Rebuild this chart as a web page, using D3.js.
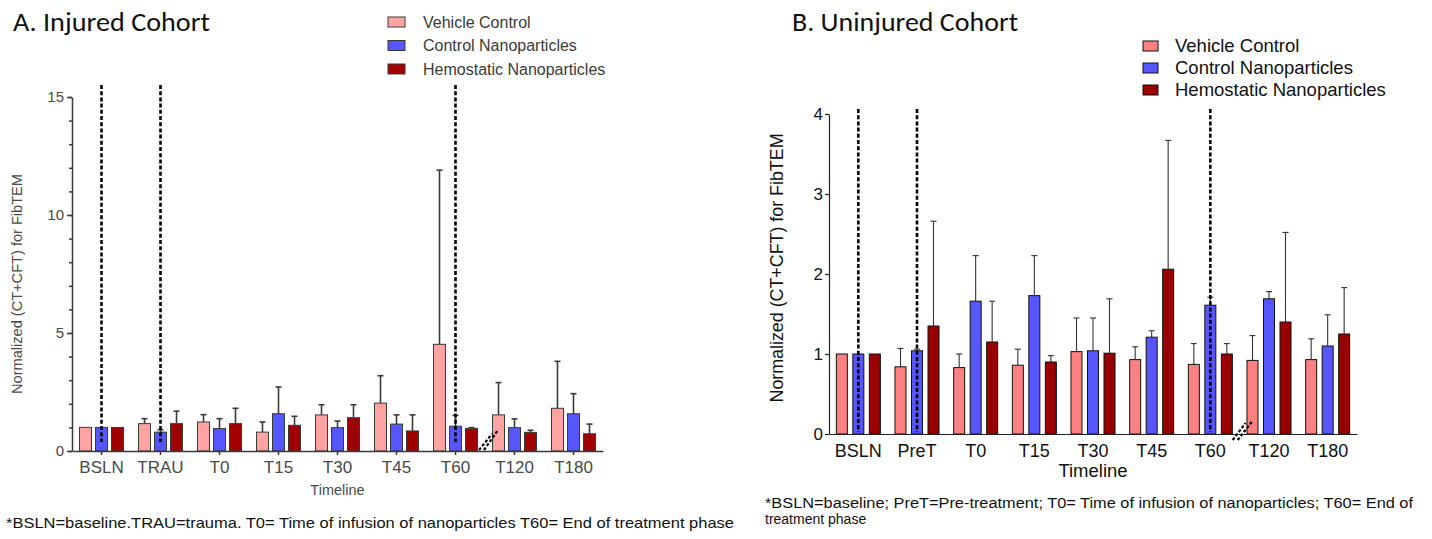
<!DOCTYPE html>
<html>
<head>
<meta charset="utf-8">
<script src="https://cdn.jsdelivr.net/npm/d3@7"></script>
<style>
  body { margin: 0; background: #fff; }
  svg { display: block; font-family: "Liberation Sans", Arial, sans-serif; }
</style>
</head>
<body>
<svg id="chart" width="1432" height="539"></svg>
<script>
// ---- Data: normalized (CT+CFT) for FibTEM, mean and SD per time point ----
const seriesNames = ["Vehicle Control", "Control Nanoparticles", "Hemostatic Nanoparticles"];

// Injured cohort
const timepointsA   = ["BSLN", "TRAU", "T0", "T15", "T30", "T45", "T60", "T120", "T180"];
const vehicleA      = [1.00, 1.16, 1.23, 0.80, 1.53, 2.03, 4.52, 1.53, 1.81];
const vehicleSdA    = [0.00, 0.21, 0.31, 0.43, 0.43, 1.16, 7.38, 1.37, 1.99];
const controlA      = [1.00, 0.80, 0.95, 1.58, 0.99, 1.14, 1.05, 0.99, 1.58];
const controlSdA    = [0.00, 0.10, 0.42, 1.13, 0.28, 0.39, 0.46, 0.37, 0.85];
const hemostaticA   = [1.00, 1.16, 1.16, 1.09, 1.41, 0.85, 0.96, 0.79, 0.73];
const hemostaticSdA = [0.00, 0.53, 0.65, 0.38, 0.55, 0.68, 0.03, 0.09, 0.41];
const yMajorTicksA  = [0, 5, 10, 15];
const yMinorTicksA  = [0, 1, 2, 3, 4, 5, 6, 7, 8, 9, 10, 11, 12, 13, 14, 15];
const phaseMarksA   = ["BSLN", "TRAU", "T60"];
const footnoteA     = "*BSLN=baseline.TRAU=trauma. T0= Time of infusion of nanoparticles  T60= End of treatment phase";

// Uninjured cohort
const timepointsB   = ["BSLN", "PreT", "T0", "T15", "T30", "T45", "T60", "T120", "T180"];
const vehicleB      = [1.00, 0.84, 0.83, 0.86, 1.03, 0.93, 0.87, 0.92, 0.93];
const vehicleSdB    = [0.00, 0.23, 0.17, 0.20, 0.42, 0.16, 0.26, 0.31, 0.26];
const controlB      = [1.00, 1.04, 1.66, 1.73, 1.04, 1.21, 1.61, 1.69, 1.10];
const controlSdB    = [0.00, 0.02, 0.57, 0.50, 0.41, 0.08, 0.10, 0.09, 0.39];
const hemostaticB   = [1.00, 1.35, 1.15, 0.90, 1.01, 2.06, 1.00, 1.40, 1.25];
const hemostaticSdB = [0.00, 1.31, 0.51, 0.08, 0.68, 1.61, 0.13, 1.12, 0.58];
const yTicksB       = [0, 1, 2, 3, 4];
const phaseMarksB   = ["BSLN", "PreT", "T60"];
const footnoteB     = ["*BSLN=baseline; PreT=Pre-treatment; T0= Time of infusion of nanoparticles; T60= End of",
                       "treatment phase"];

const yTitle = "Normalized (CT+CFT) for FibTEM";
const xTitle = "Timeline";

const svg = d3.select("#chart");

function drawPanel(p) {
  const g = svg.append("g");
  const x = d3.scaleBand().domain(p.categories).range(p.xRange).paddingInner(0).paddingOuter(0);
  const inner = d3.scaleBand().domain(seriesNames).range([-22, 22]).paddingInner(p.innerPad).paddingOuter(0);
  const y = d3.scaleLinear().domain(p.yDomain).range(p.yRange);
  const color = d3.scaleOrdinal().domain(seriesNames).range(p.colors);

  const rows = [];
  p.categories.forEach((c, i) => {
    p.series.forEach((s, k) => {
      rows.push({ cat: c, name: seriesNames[k], mean: s.mean[i], sd: s.sd[i] });
    });
  });
  const cx = d => x(d.cat) + x.bandwidth() / 2 + inner(d.name) + inner.bandwidth() / 2;

  // error whiskers (upper only)
  const err = g.append("g").attr("stroke", p.errColor).attr("stroke-width", p.errWidth).attr("fill", "none");
  rows.filter(d => d.sd > 0).forEach(d => {
    err.append("line").attr("x1", cx(d)).attr("x2", cx(d))
      .attr("y1", y(d.mean)).attr("y2", y(d.mean + d.sd));
    err.append("line").attr("x1", cx(d) - 3).attr("x2", cx(d) + 3)
      .attr("y1", y(d.mean + d.sd)).attr("y2", y(d.mean + d.sd));
  });

  // bars
  g.append("g").selectAll("rect").data(rows).join("rect")
    .attr("x", d => x(d.cat) + x.bandwidth() / 2 + inner(d.name))
    .attr("width", inner.bandwidth())
    .attr("y", d => y(d.mean))
    .attr("height", d => y(0) - y(d.mean))
    .attr("fill", d => color(d.name))
    .attr("stroke", p.barStroke)
    .attr("stroke-width", 1);

  // phase boundaries (dashed verticals)
  g.append("g").selectAll("line").data(p.marks).join("line")
    .attr("x1", d => x(d) + x.bandwidth() / 2).attr("x2", d => x(d) + x.bandwidth() / 2)
    .attr("y1", p.markTop).attr("y2", p.markBottom)
    .attr("stroke", "#000").attr("stroke-width", 2.6).attr("stroke-dasharray", "4,2.2");

  // axis break between T60 and T120
  const b = x("T120");
  const y0 = y(0);
  p.breakLines.forEach(l => {
    g.append("line")
      .attr("x1", b + l[0]).attr("y1", y0 + l[1]).attr("x2", b + l[2]).attr("y2", y0 + l[3])
      .attr("stroke", "#000").attr("stroke-width", 2.2).attr("stroke-dasharray", "3,2");
  });

  // y axis
  const yg = g.append("g").attr("transform", `translate(${p.xRange[0]},0)`);
  if (p.minorTicks) {
    yg.append("g").call(d3.axisLeft(y).tickValues(p.minorTicks).tickSize(3).tickFormat(""))
      .call(a => a.select(".domain").remove());
  }
  yg.append("g").call(d3.axisLeft(y).tickValues(p.yTicks).tickFormat(d3.format("d"))
      .tickSize(p.yTickSize).tickSizeOuter(0).tickPadding(p.yTickPad))
    .attr("font-size", p.tickFont).attr("font-family", null);
  yg.selectAll("path, line").attr("stroke", p.axisColor).attr("stroke-width", p.axisWidth);
  yg.selectAll("text").attr("fill", p.textColor);

  // x axis
  const xg = g.append("g").attr("transform", `translate(0,${y0})`)
    .call(d3.axisBottom(x).tickSize(p.xTickSize).tickSizeOuter(0).tickPadding(p.xTickPad))
    .attr("font-size", p.catFont).attr("font-family", null);
  xg.selectAll("path, line").attr("stroke", p.axisColor).attr("stroke-width", p.axisWidth);
  xg.selectAll("text").attr("fill", p.textColor);

  // axis titles
  g.append("text").attr("x", (p.xRange[0] + p.xRange[1]) / 2).attr("y", p.xTitleY)
    .attr("text-anchor", "middle").attr("font-size", p.xTitleFont).attr("fill", p.textColor).text(xTitle);
  g.append("text").attr("transform", `translate(${p.yTitleX},${p.yTitleY}) rotate(-90)`)
    .attr("text-anchor", "middle").attr("font-size", p.yTitleFont).attr("fill", p.textColor)
    .attr("textLength", p.yTitleLen).attr("lengthAdjust", "spacingAndGlyphs").text(yTitle);

  // panel title
  g.append("text").attr("x", p.titleX).attr("y", 31)
    .attr("font-family", "Carlito, Lato, 'Open Sans', sans-serif").attr("font-size", 26).attr("fill", "#111")
    .attr("textLength", p.titleLen).attr("lengthAdjust", "spacingAndGlyphs").text(p.title);

  // legend
  const lg = g.append("g");
  seriesNames.forEach((n, i) => {
    const cy = p.legend.y0 + i * p.legend.dy;
    lg.append("rect").attr("x", p.legend.x).attr("y", cy - p.legend.h / 2)
      .attr("width", p.legend.w).attr("height", p.legend.h)
      .attr("fill", color(n)).attr("stroke", p.barStroke).attr("stroke-width", 1);
    lg.append("text").attr("x", p.legend.tx).attr("y", cy).attr("dy", "0.35em")
      .attr("font-size", p.legend.font).attr("fill", p.legendColor).text(n);
  });

  // footnote
  p.footnote.forEach((t, i) => {
    const ft = g.append("text").attr("x", p.footX).attr("y", p.footY + i * p.footDy)
      .attr("font-size", p.footFont).attr("fill", "#111").text(t);
    if (p.footLen[i]) ft.attr("textLength", p.footLen[i]).attr("lengthAdjust", "spacingAndGlyphs");
  });
}

drawPanel({
  title: "A. Injured Cohort", titleX: 13, titleLen: 197,
  categories: timepointsA,
  series: [
    { mean: vehicleA, sd: vehicleSdA },
    { mean: controlA, sd: controlSdA },
    { mean: hemostaticA, sd: hemostaticSdA }
  ],
  xRange: [72, 603], innerPad: 0.25,
  yDomain: [0, 15], yRange: [451, 97],
  yTicks: yMajorTicksA, minorTicks: yMinorTicksA, yTickSize: 5, yTickPad: 3,
  xTickSize: 4, xTickPad: 6,
  colors: ["#ffa3a3", "#5656ff", "#a00000"],
  barStroke: "#3a3a3a", errColor: "#3a3a3a", errWidth: 1.6,
  axisColor: "#3a3a3a", axisWidth: 1.5, textColor: "#4a4a4a",
  tickFont: 15, catFont: 17,
  marks: phaseMarksA, markTop: 85, markBottom: 442,
  breakLines: [[-6, -1, 7, -17], [-1, -1, 13, -21]],
  xTitleY: 495, xTitleFont: 14.5,
  yTitleX: 22, yTitleY: 284, yTitleFont: 14.5, yTitleLen: 220,
  legend: { x: 388, w: 17, h: 10, y0: 22, dy: 23.5, tx: 423, font: 16 },
  legendColor: "#3a3a3a",
  footnote: [footnoteA], footX: 6, footY: 528, footDy: 0, footFont: 15, footLen: [728]
});

drawPanel({
  title: "B. Uninjured Cohort", titleX: 792, titleLen: 226,
  categories: timepointsB,
  series: [
    { mean: vehicleB, sd: vehicleSdB },
    { mean: controlB, sd: controlSdB },
    { mean: hemostaticB, sd: hemostaticSdB }
  ],
  xRange: [829, 1357], innerPad: 1 / 3,
  yDomain: [0, 4], yRange: [434, 114],
  yTicks: yTicksB, minorTicks: null, yTickSize: 4, yTickPad: 2,
  xTickSize: 0, xTickPad: 10,
  colors: ["#ff8080", "#5656ff", "#9a0000"],
  barStroke: "#111", errColor: "#333", errWidth: 1.1,
  axisColor: "#222", axisWidth: 1.2, textColor: "#111",
  tickFont: 17, catFont: 18,
  marks: phaseMarksB, markTop: 109, markBottom: 432,
  breakLines: [[-7, 6, 6, -11], [-2, 6, 12, -12]],
  xTitleY: 477, xTitleFont: 18.5,
  yTitleX: 783, yTitleY: 268, yTitleFont: 18, yTitleLen: 269,
  legend: { x: 1143, w: 15, h: 10, y0: 46, dy: 22, tx: 1175, font: 18.5 },
  legendColor: "#111",
  footnote: footnoteB, footX: 765, footY: 508, footDy: 16, footFont: 14, footLen: [648, null]
});
</script>
</body>
</html>
